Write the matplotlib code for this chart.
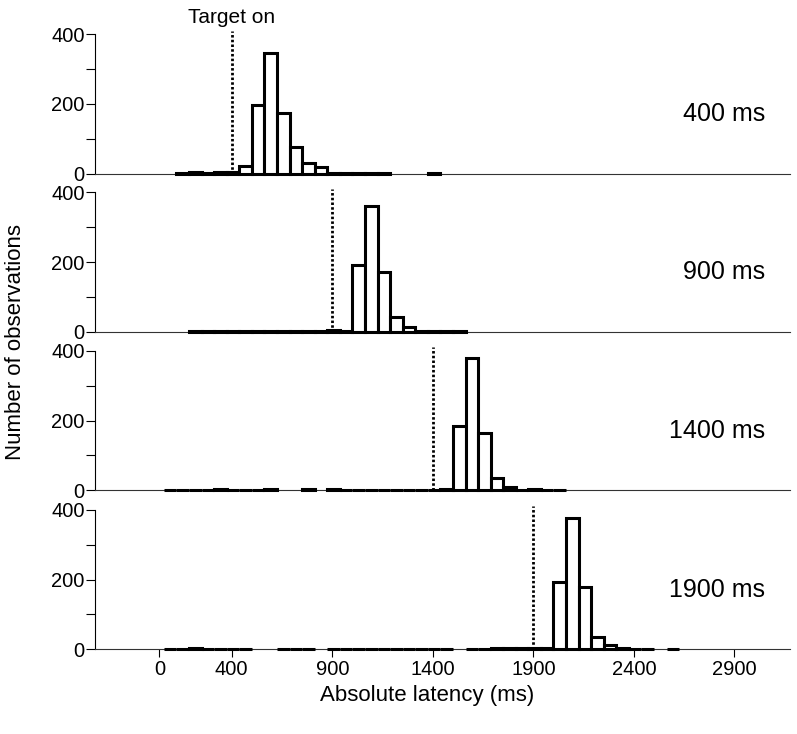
import matplotlib
matplotlib.use("Agg")
import matplotlib.pyplot as plt
from matplotlib.ticker import FixedLocator

# ─── Data (counts per 62.5 ms bin) ───────────────────────────────────────────

BIN_W = 62.5
TARGETS = [400, 900, 1400, 1900]
PANEL_LABELS = ["400 ms", "900 ms", "1400 ms", "1900 ms"]

START_400 = 125.0
COUNTS_400 = [2, 5, 3, 6, 4, 22, 198, 345, 175, 77, 32, 18, 3, 2, 1, 1, 1,
              0, 0, 0, 2]

START_900 = 187.5
COUNTS_900 = [2, 1, 1, 3, 1, 1, 2, 2, 1, 1, 2, 4, 2, 190, 361, 172, 41, 13,
              3, 3, 1, 1]

START_1400 = 62.5
COUNTS_1400 = [2, 2, 1, 1, 5, 2, 1, 1, 3, 0, 0, 3, 0, 3, 1, 1, 2, 2, 1, 2,
               1, 1, 4, 185, 379, 165, 36, 10, 2, 4, 2, 1]

START_1900 = 62.5
COUNTS_1900 = [1, 2, 3, 2, 2, 1, 1, 0, 0, 2, 2, 2, 0, 2, 2, 2, 2, 2, 2, 2,
               2, 2, 2, 0, 1, 2, 3, 4, 4, 5, 3, 192, 376, 179, 36, 12, 5, 2,
               2, 0, 2]

STARTS = [START_400, START_900, START_1400, START_1900]
COUNTS = [COUNTS_400, COUNTS_900, COUNTS_1400, COUNTS_1900]

X_TICKS = [40, 400, 900, 1400, 1900, 2400, 2900]
X_TICK_LABELS = ["0", "400", "900", "1400", "1900", "2400", "2900"]
Y_MAJOR = [0, 200, 400]
Y_MINOR = [100, 300]

# ─── Style ───────────────────────────────────────────────────────────────────

plt.rcParams.update({
    "font.family": ["Liberation Sans", "DejaVu Sans"],
    "axes.linewidth": 0.8,
})

fig = plt.figure(figsize=(7.97, 7.34), dpi=100)

LEFT, WIDTH, HEIGHT = 0.1192, 0.8720, 0.1899
BOTTOMS = [0.7634, 0.5481, 0.3320, 0.1154]
XLIM = (-280, 3176)

axes = []
for i, (start, counts) in enumerate(zip(STARTS, COUNTS)):
    ax = fig.add_axes([LEFT, BOTTOMS[i], WIDTH, HEIGHT])
    axes.append(ax)

    lefts = [start + k * BIN_W for k in range(len(counts)) if counts[k] > 0]
    heights = [c for c in counts if c > 0]
    ax.bar(lefts, heights, width=BIN_W, align="edge", facecolor="white",
           edgecolor="black", linewidth=2.2, clip_on=False, zorder=3)

    # target onset marker
    ax.plot([TARGETS[i], TARGETS[i]], [0, 410], color="black",
            linestyle=(0, (0.9, 0.8)), linewidth=2.0, clip_on=False, zorder=4)

    ax.text(3052, 170, PANEL_LABELS[i], ha="right", va="center", fontsize=18)

    ax.set_xlim(*XLIM)
    ax.set_ylim(0, 400)
    ax.spines["top"].set_visible(False)
    ax.spines["right"].set_visible(False)
    ax.spines["left"].set_bounds(0, 400)
    ax.spines["bottom"].set_color("#333333")

    ax.yaxis.set_major_locator(FixedLocator(Y_MAJOR))
    ax.yaxis.set_minor_locator(FixedLocator(Y_MINOR))
    ax.tick_params(axis="y", which="both", direction="out", length=6.5,
                   width=0.8, labelsize=14.5, pad=1)

    if i < 3:
        ax.tick_params(axis="x", bottom=False, labelbottom=False)
    else:
        ax.set_xticks(X_TICKS)
        ax.set_xticklabels(X_TICK_LABELS)
        ax.tick_params(axis="x", direction="out", length=6, width=0.8,
                       labelsize=14.5, pad=2)

axes[0].text(TARGETS[0], 422, "Target on", ha="center", va="bottom",
             fontsize=15)

fig.text(0.536, (734 - 696) / 734, "Absolute latency (ms)", ha="center",
         va="center", fontsize=16)
fig.text(0.019, (734 - 342) / 734, "Number of observations", ha="center",
         va="center", rotation=90, fontsize=16)

fig.savefig("out.png", dpi=100)
